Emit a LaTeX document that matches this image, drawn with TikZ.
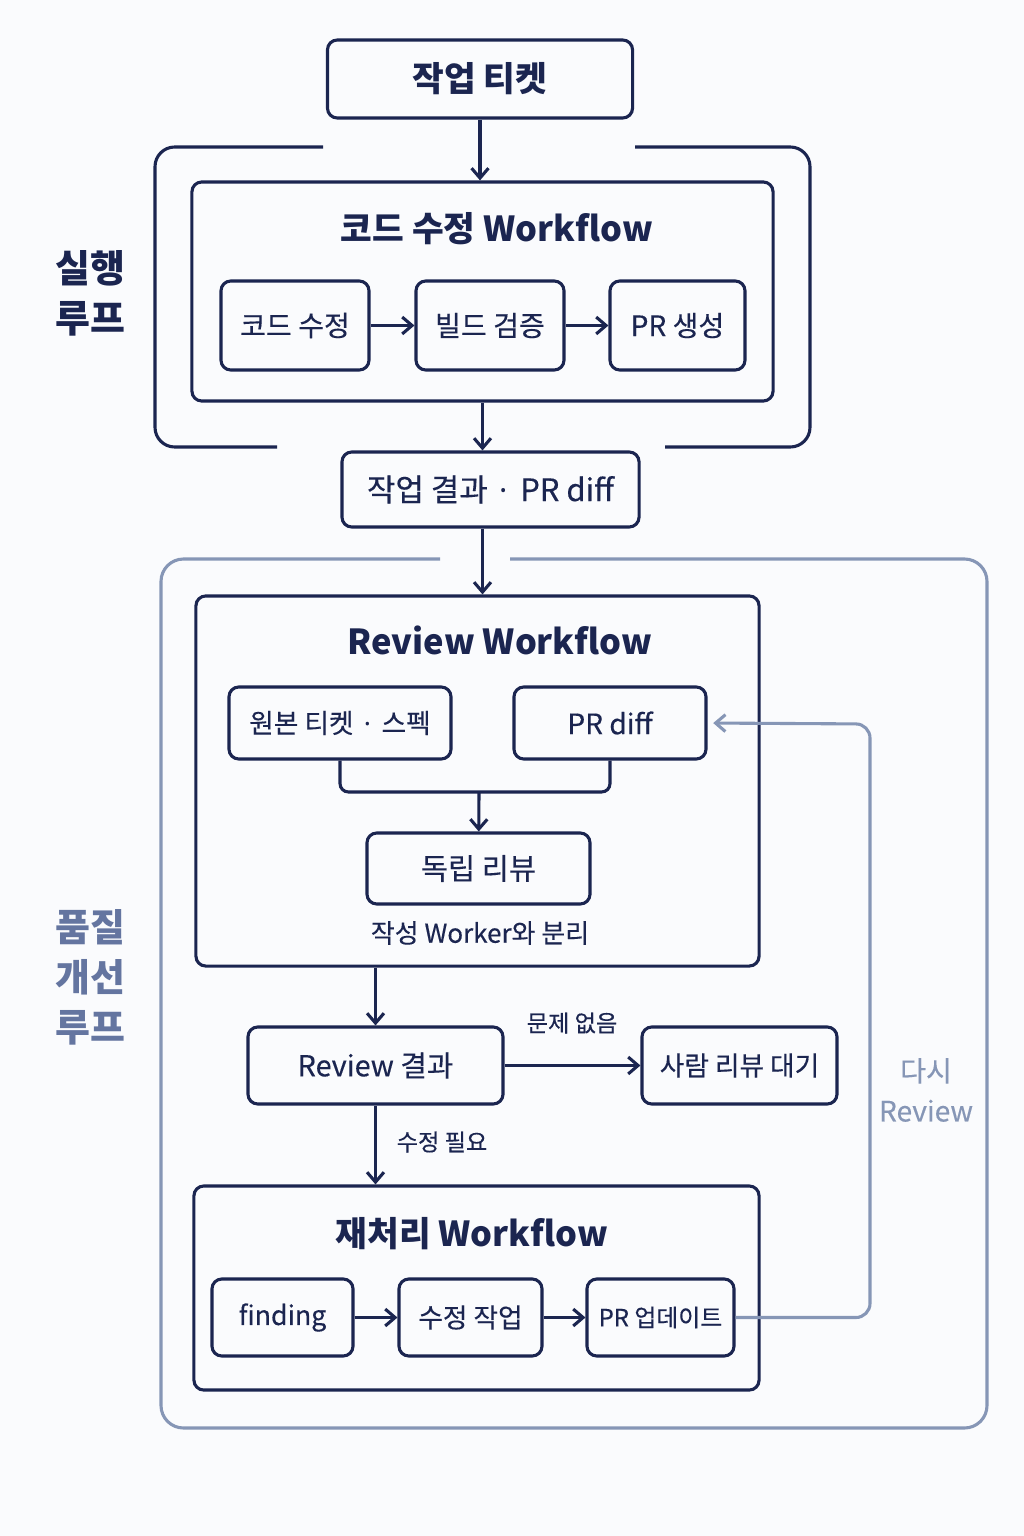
\documentclass[tikz,border=0pt]{standalone}
\usepackage{fontspec}
\setmainfont{Noto Sans CJK KR}
\newfontfamily\medfont{Noto Sans CJK KR}[FakeBold=0.3]
\newfontfamily\dotfont{Noto Sans}
\usepackage{tikz}
\usetikzlibrary{calc}
\usetikzlibrary{arrows.meta}
\usetikzlibrary{positioning}
\definecolor{navy}{HTML}{1B2550}
\definecolor{loopgray}{HTML}{8696B6}
\definecolor{sidegray}{HTML}{6475A0}
\definecolor{paper}{HTML}{FAFBFD}
\newcommand{\fsTitle}{\fontsize{24.5}{30}\selectfont\bfseries}
\newcommand{\fsBox}[1][20]{\medfont\fontsize{#1}{#1}\selectfont}
\newcommand{\fsNote}{\medfont\fontsize{16.5}{20}\selectfont}
\newcommand{\fsSide}{\fontsize{27}{35.5}\selectfont\bfseries}
\newcommand{\mdot}{{\dotfont\,·\,}}
\tikzset{>={Straight Barb[length=7pt,width=12pt]}}
\tikzstyle{box} = [draw=navy, line width=2.2pt, rounded corners=7pt, text=navy, inner sep=0]
\tikzstyle{arr} = [->, draw=navy, line width=2.2pt]
\tikzstyle{back} = [->, draw=loopgray, line width=2.2pt, rounded corners=10pt]

\begin{document}
\begin{tikzpicture}[x=0.025cm, y=-0.025cm]
\useasboundingbox [fill=paper] (0,0) rectangle (1024,1536);
% execution loop
\draw [navy, line width=2.2pt, rounded corners=14pt] (323,147) -- (155,147) -- (155,447) -- (277,447);
\draw [navy, line width=2.2pt, rounded corners=14pt] (635,147) -- (810,147) -- (810,447) -- (665,447);
\node [text=navy, align=center, font=\fsSide] (L1) at (90,293) {실행\\루프};
\node [box, minimum width=7.625cm, minimum height=1.95cm, font=\fsTitle] (T) at (480,79) {작업 티켓};
\node [box, minimum width=14.525cm, minimum height=5.475cm] (W1) at (482.5,291.5) {};
\node [text=navy, font=\fsTitle] (W1t) at (497,229) {코드 수정 Workflow};
\node [box, minimum width=3.7cm, minimum height=2.225cm, font=\fsBox] (C) at (295,325.5) {코드 수정};
\node [box, minimum width=3.7cm, minimum height=2.225cm, font=\fsBox] (B) at (490,325.5) {빌드 검증};
\node [box, minimum width=3.375cm, minimum height=2.225cm, font=\fsBox] (P) at (677.5,325.5) {PR 생성};
\node [box, minimum width=7.425cm, minimum height=1.875cm, font={\fsBox[22]}] (R) at (490.5,489.5) {작업 결과 \mdot{} PR diff};
\draw [arr] (T) -- (T |- W1.north);
\draw [arr] (C) -- (B);
\draw [arr] (B) -- (P);
\draw [arr] (W1.south) -- (W1.south |- R.north);
% quality loop
\draw [loopgray, line width=2.2pt, rounded corners=16pt] (440,559) -- (161,559) -- (161,1428) -- (987,1428) -- (987,559) -- (510,559);
\node [text=sidegray, align=center, font=\fsSide] (L2) at (90,977) {품질\\개선\\루프};
\node [text=loopgray, align=center, font={\medfont\fontsize{20}{28.5}\selectfont}] (again) at (926,1090) {다시\\Review};
\node [box, minimum width=14.075cm, minimum height=9.25cm] (RW) at (477.5,781) {};
\node [text=navy, font=\fsTitle] (RWt) at (500,640) {Review Workflow};
\node [box, minimum width=5.55cm, minimum height=1.8cm, font={\fsBox[19]}] (O) at (340,723) {원본 티켓 \mdot{} 스펙};
\node [box, minimum width=4.8cm, minimum height=1.8cm, font=\fsBox] (D) at (610,723) {PR diff};
\coordinate (M) at (479,792);
\node [box, minimum width=5.575cm, minimum height=1.775cm, font={\fsBox[21]}] (I) at (478.5,868.5) {독립 리뷰};
\node [text=navy, font={\medfont\fontsize{18.5}{22}\selectfont}] (sep) at (480,933) {작성 Worker와 분리};
\draw [arr] (W1.south |- R.south) -- (W1.south |- RW.north);
\draw [navy, line width=2.2pt, rounded corners=6pt] (O.south) |- (M) -| (D.south);
\draw [arr] (M) -- (I);
\node [box, minimum width=6.375cm, minimum height=1.925cm, font={\fsBox[20.5]}] (RR) at (375.5,1065.5) {Review 결과};
\node [box, minimum width=4.875cm, minimum height=1.925cm, font={\fsBox[19]}] (H) at (739.5,1065.5) {사람 리뷰 대기};
\node [text=navy, font=\fsNote] (ok) at (572,1023) {문제 없음};
\node [text=navy, font=\fsNote] (fix) at (442,1142) {수정 필요};
\node [box, minimum width=14.125cm, minimum height=5.1cm] (RP) at (476.5,1288) {};
\node [text=navy, font=\fsTitle] (RPt) at (472,1234) {재처리 Workflow};
\node [box, minimum width=3.525cm, minimum height=1.925cm, font={\fsBox[19]}] (F) at (282.5,1317.5) {finding};
\node [box, minimum width=3.575cm, minimum height=1.925cm, font={\fsBox[19]}] (S) at (470.5,1317.5) {수정 작업};
\node [box, minimum width=3.675cm, minimum height=1.925cm, font={\fsBox[17]}] (U) at (660.5,1317.5) {PR 업데이트};
\coordinate (fb) at (870,724);
\draw [arr] (RR.north |- RW.south) -- (RR.north);
\draw [arr] (RR) -- (H);
\draw [arr] (RR) -- (RR |- RP.north);
\draw [arr] (F) -- (S);
\draw [arr] (S) -- (U);
\draw [back, shorten >=4pt] (U.east) -| (fb) -- (D.east);
\end{tikzpicture}
\end{document}
